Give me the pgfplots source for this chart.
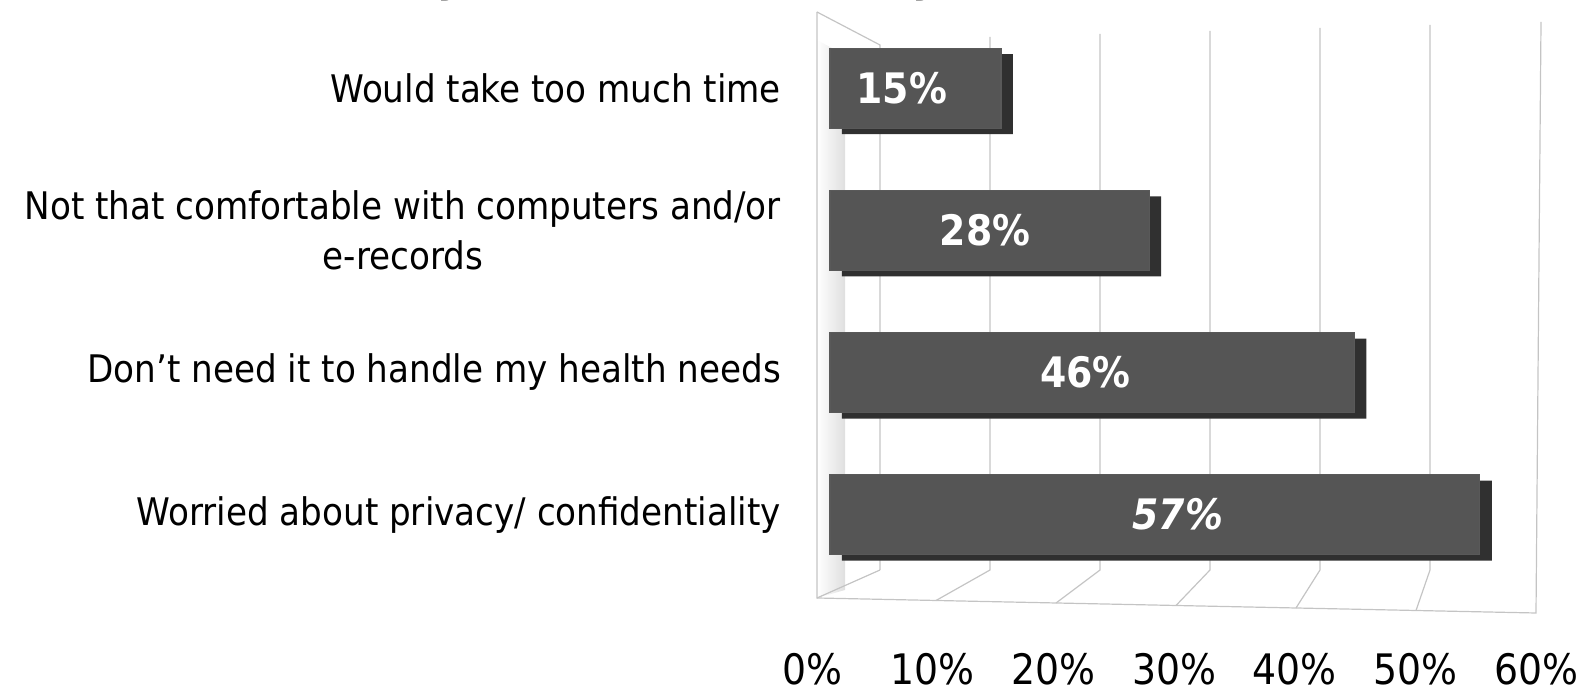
\documentclass[border=0pt]{standalone}
\usepackage{pgfplots}
\pgfplotsset{compat=1.18}
\usepackage{fontspec}
\setmainfont{DejaVu Sans Condensed}
\definecolor{barfront}{HTML}{555555}
\definecolor{barside}{HTML}{303030}
\definecolor{gridgray}{HTML}{C4C4C4}
\begin{document}
\begin{tikzpicture}
% frame of the 3-D box, in reference pixels
\begin{scope}[x=0.5pt,y=-0.5pt]
\path[use as bounding box] (0,0) rectangle (1586,699);
\node[anchor=base west,font=\fontsize{24}{28}\selectfont\bfseries\itshape,inner sep=0pt] at (135,-9) {about privacy and confidentiality)};
\shade[left color=white,right color=gray!25] (817,40) -- (845,55) -- (845,590) -- (817,598) -- cycle;
\draw[gridgray,line width=0.6pt] (817,12) -- (880,45) -- (880,570);
\draw[gridgray,line width=0.6pt] (817,12) -- (817,598) -- (1536,613) -- (1541,22);
\foreach \v in {10,20,30,40,50} {
  \draw[gridgray,line width=0.6pt] ({880+11*\v},{40-0.3*\v}) -- ({880+11*\v},570) -- ({816+12*\v},{598+0.25*\v});
}
\draw[gridgray,line width=0.6pt] (817,598) -- (880,570);
\end{scope}
% bars
\begin{axis}[
    at={(415pt,-295pt)}, anchor=south west,
    scale only axis, width=342pt, height=285pt,
    xmin=0, xmax=60, ymin=0.47, ymax=4.48,
    axis line style={draw=none},
    xtick=\empty, ytick={1,2,3,4},
    yticklabels={Worried about privacy/ confidentiality,
                 Don't need it to handle my health needs,
                 {Not that comfortable with computers and/or\\e-records},
                 Would take too much time},
    major tick length=0pt,
    yticklabel style={align=center, xshift=-21pt, font=\fontsize{19}{25}\selectfont},
    clip=false
]
\addplot[xbar, bar width=40pt, fill=barside, draw=none, xshift=6pt, yshift=-3pt]
  coordinates {(57,1) (46,2) (28,3) (15,4)};
\addplot[xbar, bar width=40pt, fill=barfront, draw=gray!70!black, line width=0.6pt]
  coordinates {(57,1) (46,2) (28,3) (15,4)};
\addplot[draw=none, mark=none, nodes near coords, point meta=explicit symbolic,
  nodes near coords style={anchor=center, text=white, font=\fontsize{21}{24}\selectfont\bfseries}]
  coordinates {(30.5,1) [\itshape 57\%] (22.4,2) [46\%] (13.6,3) [28\%] (6.3,4) [15\%]};
\end{axis}
% percent scale along the front edge of the floor
\begin{axis}[
    at={(406pt,-302pt)}, anchor=south west,
    scale only axis, width=362pt, height=10pt,
    xmin=0, xmax=60, ymin=0, ymax=1,
    axis line style={draw=none}, major tick length=0pt,
    ytick=\empty, xtick={0,10,...,60},
    xticklabel={\pgfmathprintnumber{\tick}\%},
    xticklabel style={yshift=-21pt, font=\fontsize{21}{24}\selectfont},
    /pgf/number format/assume math mode=true
]
\addplot[draw=none] coordinates {(0,0)};
\end{axis}
\end{tikzpicture}
\end{document}
